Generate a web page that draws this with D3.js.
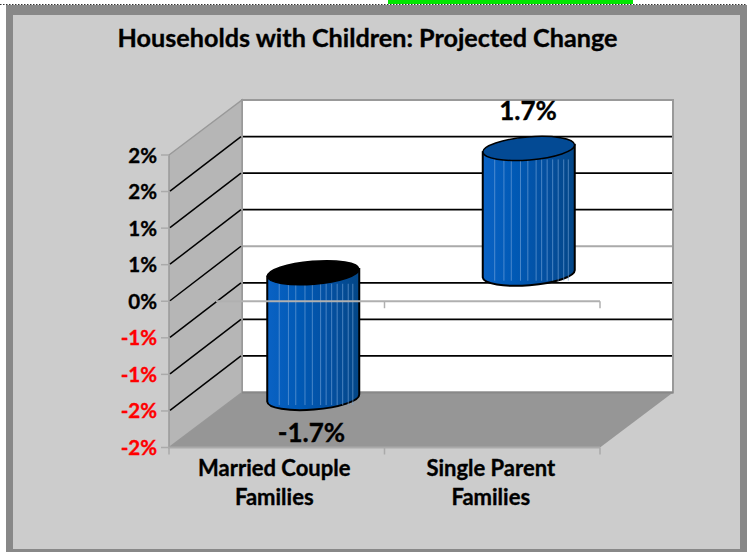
<!DOCTYPE html>
<html><head><meta charset="utf-8">
<script src="https://cdn.jsdelivr.net/npm/d3@7/dist/d3.min.js"></script>
<style>html,body{margin:0;padding:0;background:#fff}svg{display:block}text{font-family:Lato,"Open Sans",sans-serif;font-weight:700;stroke:currentColor;stroke-width:0.35px}</style>
</head><body><svg width="747" height="552"></svg>
<script>
const categories = [["Married Couple","Families"],["Single Parent","Families"]];
const values = [-1.7, 1.7];
const valueLabels = ["-1.7%","1.7%"];
const tickValues = [2,1.5,1,0.5,0,-0.5,-1,-1.5,-2];
const tickLabels = ["2%","2%","1%","1%","0%","-1%","-1%","-2%","-2%"];
const title = "Households with Children: Projected Change";

const svg = d3.select("svg");
const y = d3.scaleLinear().domain([-2,2]).range([447.5,155]);
const x = d3.scaleBand().domain([0,1]).range([169,600]).padding(0);
const dx = 73, dy = -55;

// frame
svg.append("rect").attr("x",6).attr("y",5).attr("width",741).attr("height",547).attr("fill","#888888");
svg.append("rect").attr("x",13).attr("y",15).attr("width",727).attr("height",534).attr("fill","#cccccc");
svg.append("line").attr("x1",0).attr("x2",747).attr("y1",4.5).attr("y2",4.5).attr("stroke","#333").attr("stroke-dasharray","1.5 1.5");
svg.append("rect").attr("x",388).attr("y",0).attr("width",245).attr("height",4).attr("fill","#00e600");

// title
svg.append("text").attr("x",367.5).attr("y",47).attr("text-anchor","middle").attr("font-size",25.2).attr("fill","#000").style("color","#000").text(title);

// walls
const x0=169,x1=600;
const yB=y(-2),yT=y(2);
svg.append("rect").attr("x",x0+dx).attr("y",yT+dy).attr("width",x1-x0).attr("height",yB-yT)
  .attr("fill","#fff").attr("stroke","#999").attr("stroke-width",2);
svg.append("path").attr("d",`M${x0},${yT}L${x0+dx},${yT+dy}L${x0+dx},${yB+dy}L${x0},${yB}Z`)
  .attr("fill","#b6b6b6").attr("stroke","#999").attr("stroke-width",1.5);
svg.append("path").attr("d",`M${x0},${yB}L${x0+dx},${yB+dy}L${x1+dx},${yB+dy}L${x1},${yB}Z`)
  .attr("fill","#969696");
svg.append("line").attr("x1",x0+dx).attr("x2",x1+dx).attr("y1",yB+dy).attr("y2",yB+dy).attr("stroke","#888").attr("stroke-width",2);

// gridlines
tickValues.filter(v=>v!==2&&v!==-2).forEach(v=>{
  const c = v===0 ? "#aaaaaa" : "#000";
  svg.append("line").attr("x1",x0+dx+1).attr("x2",x1+dx-1).attr("y1",y(v)+dy).attr("y2",y(v)+dy).attr("stroke",c).attr("stroke-width",1.8);
  svg.append("line").attr("x1",x0+1).attr("x2",x0+dx-1).attr("y1",y(v)-0.5).attr("y2",y(v)+dy).attr("stroke","#000").attr("stroke-width",1.5);
});

// axes ticks
tickValues.forEach((v,i)=>{
  svg.append("line").attr("x1",161).attr("x2",x0).attr("y1",y(v)).attr("y2",y(v)).attr("stroke","#aaa").attr("stroke-width",1.5);
  svg.append("text").attr("x",157).attr("y",y(v)+7.5).attr("text-anchor","end").attr("font-size",20.5)
    .attr("fill",v<0?"#ff0000":"#000").style("color",v<0?"#ff0000":"#000").text(tickLabels[i]);
});
// category axis lines
svg.append("line").attr("x1",x0).attr("x2",x1).attr("y1",yB).attr("y2",yB).attr("stroke","#aaa").attr("stroke-width",2);
[x0,x(1),x1].forEach(t=>svg.append("line").attr("x1",t).attr("x2",t).attr("y1",yB).attr("y2",yB+7).attr("stroke","#aaa").attr("stroke-width",1.5));

// cylinders
const defs = svg.append("defs");
const grad = defs.append("linearGradient").attr("id","cyl");
[[0,"#0a62c4"],[0.35,"#0059b5"],[0.7,"#044f9f"],[1,"#034686"]].forEach(s=>grad.append("stop").attr("offset",s[0]).attr("stop-color",s[1]));
const rx=46, ry=11.5, tilt=0.08;
const stripes=[0.13,0.23,0.31,0.41,0.49,0.58,0.64,0.70,0.76,0.82,0.88,0.93];
values.forEach((v,i)=>{
  const cx = x(i)+x.bandwidth()/2+dx/2;
  const zero = y(0)+dy/2, end = y(v)+dy/2;
  const top = Math.min(zero,end)-1, bot = Math.max(zero,end);
  const g = svg.append("g");
  const lTop = top+rx*tilt, rTop = top-rx*tilt, lBot = bot+rx*tilt, rBot = bot-rx*tilt;
  g.append("path").attr("d",`M${cx-rx},${lTop}L${cx-rx},${lBot}A${rx},${ry} -4.6 0 0 ${cx+rx},${rBot}L${cx+rx},${rTop}Z`)
    .attr("fill","url(#cyl)").attr("stroke","#000").attr("stroke-width",2);
  stripes.forEach(s=>{
    const sx=cx-rx+2*rx*s;
    g.append("line").attr("x1",sx).attr("x2",sx).attr("y1",top+11).attr("y2",bot+7).attr("stroke","#7aa8dc").attr("stroke-opacity",0.6).attr("stroke-width",1);
  });
  g.append("ellipse").attr("cx",cx).attr("cy",top).attr("rx",rx).attr("ry",ry)
    .attr("transform",`rotate(-4.6 ${cx} ${top})`)
    .attr("fill",v<0?"#000":"#034a94").attr("stroke","#000").attr("stroke-width",1.5);
});

// zero plane axis, in front of the bars
svg.append("line").attr("x1",216).attr("x2",x1).attr("y1",y(0)).attr("y2",y(0)).attr("stroke","#b0b0b0").attr("stroke-width",2);
[x(1),x1].forEach(t=>svg.append("line").attr("x1",t).attr("x2",t).attr("y1",y(0)).attr("y2",y(0)+7).attr("stroke","#b0b0b0").attr("stroke-width",1.5));

// value labels
svg.append("text").attr("x",311.5).attr("y",442).attr("text-anchor","middle").attr("font-size",26).style("color","#000").text(valueLabels[0]);
svg.append("text").attr("x",528).attr("y",120).attr("text-anchor","middle").attr("font-size",26).style("color","#000").text(valueLabels[1]);

// category labels
categories.forEach((c,i)=>c.forEach((s,j)=>{
  svg.append("text").attr("x",x(i)+x.bandwidth()/2-(i?1.5:2.5)).attr("y",476+j*29).attr("text-anchor","middle").attr("font-size",22).style("color","#000").text(s);
}));
</script></body></html>
